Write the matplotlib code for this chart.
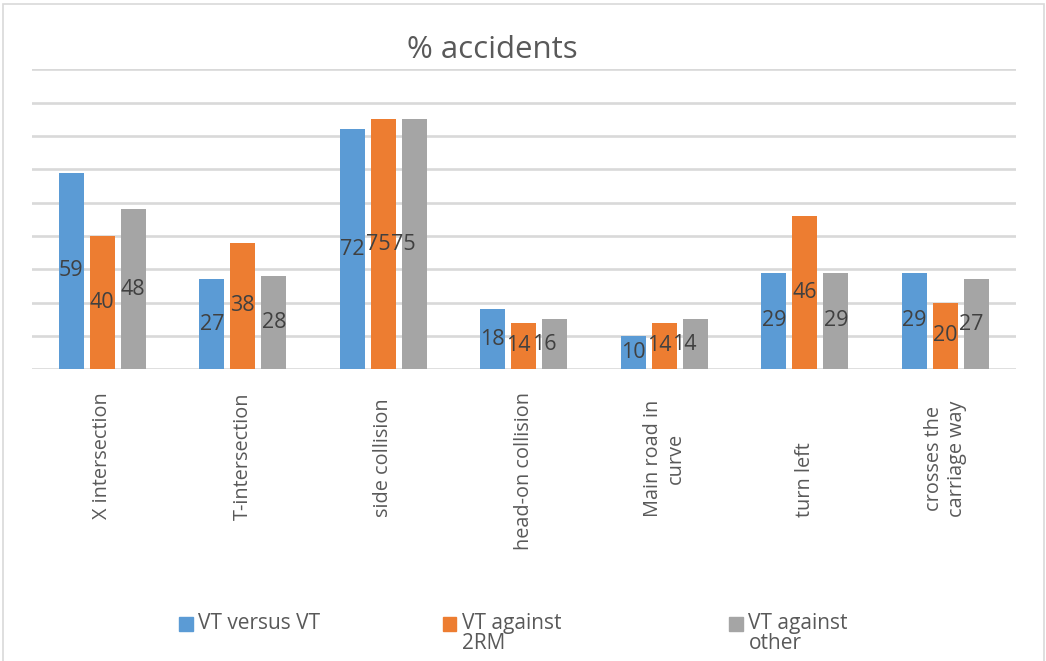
import numpy as np
import matplotlib
matplotlib.use("Agg")
import matplotlib.pyplot as plt
from matplotlib.patches import Rectangle
from matplotlib.transforms import blended_transform_factory

plt.rcParams['font.family'] = ['Open Sans', 'DejaVu Sans']

categories = ["X intersection", "T-intersection", "side collision", "head-on collision",
              "Main road in\ncurve", "turn left", "crosses the\ncarriage way"]
series = ["VT versus VT", "VT against\n2RM", "VT against\nother"]
colors = ["#5B9BD5", "#ED7D31", "#A5A5A5"]

# bar heights
vt_vs_vt = [59, 27, 72, 18, 10, 29, 29]
vt_2rm = [40, 38, 75, 14, 14, 46, 20]
vt_other = [48, 28, 75, 15, 15, 29, 27]
# data labels as printed on the bars
lab_vt_vs_vt = ["59", "27", "72", "18", "10", "29", "29"]
lab_vt_2rm = ["40", "38", "75", "14", "14", "46", "20"]
lab_vt_other = ["48", "28", "75", "16", "14", "29", "27"]

values = [vt_vs_vt, vt_2rm, vt_other]
labels = [lab_vt_vs_vt, lab_vt_2rm, lab_vt_other]

W, H = 1046, 661
fig = plt.figure(figsize=(W / 100, H / 100), dpi=100)
ax = fig.add_axes([32 / W, 1 - 369.3 / H, (1015.7 - 32) / W, 300 / H])

x = np.arange(len(categories))
bw = 25 / 140.4
step = 31 / 140.4

texts = []
for i, (vals, labs) in enumerate(zip(values, labels)):
    pos = x + (i - 1) * step
    ax.bar(pos, vals, width=bw, color=colors[i], zorder=3)
    row = []
    for p, v, l in zip(pos, vals, labs):
        t = ax.text(p, v / 2, l, ha='center', va='center', fontsize=15.5,
                    color='#404040', zorder=4)
        row.append(t)
    texts.append(row)

ax.set_xlim(-0.5, len(categories) - 0.5)
ax.set_ylim(0, 90)
ax.set_yticks(np.arange(0, 100, 10))
ax.set_yticklabels([])
ax.set_xticks([])
ax.tick_params(left=False, bottom=False)
ax.grid(axis='y', color='#d9d9d9', linewidth=1.9, zorder=0)
for s in ax.spines.values():
    s.set_visible(False)

# category labels, rotated, end at y=517 px unless that would push them past 392 px
tr = blended_transform_factory(ax.transData, ax.transAxes)
y_end = (369.3 - 517) / 300
y_top = (369.3 - 392) / 300
cat_texts = []
for xi, c in zip(x, categories):
    t = ax.text(xi, y_end, c, rotation=90, ha='center', va='bottom',
                multialignment='center', fontsize=14.3, color='#595959',
                transform=tr, linespacing=1.15)
    cat_texts.append(t)

fig.canvas.draw()
r = fig.canvas.get_renderer()
for t in cat_texts:
    bb = t.get_window_extent(r)
    if bb.y1 > (H - 392):
        t.set_y(y_top)
        t.set_va('top')

# push data labels sideways when they collide with their neighbour
inv = ax.transData.inverted()
for j in range(len(categories)):
    for i in range(1, 3):
        prev = texts[i - 1][j].get_window_extent(r)
        cur = texts[i][j].get_window_extent(r)
        dy = abs((prev.y0 + prev.y1) / 2 - (cur.y0 + cur.y1) / 2)
        if dy < 0.6 * cur.height and cur.x0 < prev.x1 + 20:
            nx = inv.transform((prev.x1 + 1, 0))[0]
            texts[i][j].set_x(nx)
            texts[i][j].set_ha('left')
            fig.canvas.draw()

fig.text(492 / W, 1 - 50 / H, "% accidents", ha='center', va='center',
         fontsize=22.5, color='#595959')

# legend
leg_x = [179, 442.5, 729]
for i, name in enumerate(series):
    fig.add_artist(Rectangle((leg_x[i] / W, 1 - 630.5 / H), 13.5 / W, 13.5 / H,
                             transform=fig.transFigure, color=colors[i]))
    fig.text((leg_x[i] + 19.5) / W, 1 - 613 / H, name, ha='left', va='top',
             fontsize=15, color='#595959', linespacing=0.95)

fig.add_artist(Rectangle((3 / W, -0.02), 1041 / W, 1 - 4 / H + 0.02,
                         transform=fig.transFigure, fill=False,
                         edgecolor='#d9d9d9', linewidth=1.2))

fig.savefig("out.png", dpi=100)
